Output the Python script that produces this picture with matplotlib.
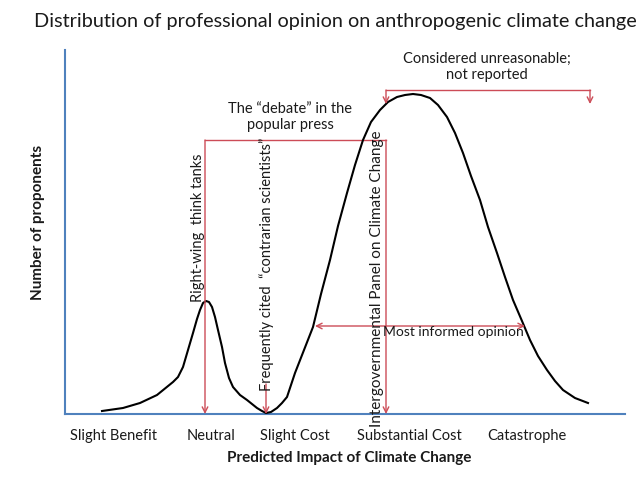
import matplotlib
matplotlib.use("Agg")
import matplotlib.pyplot as plt

plt.rcParams['font.family'] = ['Lato', 'DejaVu Sans']

# curve (x: px right of the y axis, y: px above the x axis)
curve_x = [37, 58, 75, 92, 108, 113, 118, 123, 128, 132, 135, 138, 141, 144, 147, 150,
           153, 157, 160, 164, 168, 175, 182, 187, 192, 197, 201, 206, 212, 217, 222, 230,
           239, 248, 256, 265, 273, 282, 290, 298, 306, 315, 323, 332, 340, 348, 356,
           365, 373, 382, 390, 398, 406, 415, 423, 432, 440, 448, 457, 465, 473, 482,
           490, 498, 510, 523]
curve_y = [3, 6, 11, 19, 32, 37, 47, 64, 81, 95, 104, 111, 113, 112, 107, 97,
           84, 67, 51, 36, 27, 19, 14, 10, 6, 3, 1, 2, 6, 11, 17, 41,
           64, 87, 120, 154, 188, 221, 249, 274, 292, 304, 312, 317, 319, 320, 319,
           316, 309, 297, 281, 261, 238, 214, 187, 161, 137, 114, 93, 74, 58, 44,
           33, 24, 16, 11]

tick_pos = [49, 146, 230, 344, 462]
tick_labels = ['Slight Benefit', 'Neutral', 'Slight Cost', 'Substantial Cost', 'Catastrophe']

# red annotation geometry
neutral_x = 140
contrarian_x = 201
ipcc_x = 321
debate_y = 274
unreason_x = [321, 525]
unreason_y = 324
unreason_tip = 310
informed_x = [250, 460]
informed_y = 88
contrarian_top = 30

red = '#cc4c57'
blue = '#4f81bd'
txt = '#1a1a1a'

fig = plt.figure(figsize=(6.4, 4.8), dpi=100)
ax = fig.add_axes([65 / 640, 66 / 480, 560 / 640, 364 / 480])
ax.set_xlim(0, 560)
ax.set_ylim(0, 364)

ax.plot(curve_x, curve_y, color='black', lw=1.5, zorder=3)

for s in ['top', 'right']:
    ax.spines[s].set_visible(False)
for s in ['left', 'bottom']:
    ax.spines[s].set_color(blue)
    ax.spines[s].set_linewidth(1.5)

ax.set_yticks([])
ax.set_xticks(tick_pos, tick_labels)
ax.tick_params(axis='x', length=0, pad=11, labelsize=10.5, labelcolor=txt)

ax.set_xlabel('Predicted Impact of Climate Change', fontsize=11, fontweight='bold', color=txt)
ax.xaxis.set_label_coords(284 / 560, -37 / 364)
ax.set_ylabel('Number of proponents', fontsize=11, fontweight='bold', color=txt)
ax.yaxis.set_label_coords(-20 / 560, 192 / 364)

fig.text(335 / 640, 1 - 22 / 480, 'Distribution of professional opinion on anthropogenic climate change',
         ha='center', va='center', fontsize=14.3, color=txt)

arrow = dict(arrowstyle='->', color=red, lw=1, shrinkA=0, shrinkB=0, mutation_scale=10)
both = dict(arrowstyle='<->', color=red, lw=1, shrinkA=0, shrinkB=0, mutation_scale=10)

# "debate" bracket: neutral ... IPCC
ax.plot([neutral_x, ipcc_x], [debate_y, debate_y], color=red, lw=1)
ax.annotate('', xy=(neutral_x, 0), xytext=(neutral_x, debate_y), arrowprops=arrow)
ax.annotate('', xy=(ipcc_x, 0), xytext=(ipcc_x, debate_y), arrowprops=arrow)
ax.annotate('', xy=(contrarian_x, 0), xytext=(contrarian_x, contrarian_top), arrowprops=arrow)

# unreasonable bracket
ax.plot(unreason_x, [unreason_y, unreason_y], color=red, lw=1)
for xx in unreason_x:
    ax.annotate('', xy=(xx, unreason_tip), xytext=(xx, unreason_y), arrowprops=arrow)

ax.annotate('', xy=(informed_x[0], informed_y), xytext=(informed_x[1], informed_y), arrowprops=both)

fs = 10.5
ax.text(422, 347, 'Considered unreasonable;\nnot reported', ha='center', va='center',
        fontsize=fs, color=txt, linespacing=1.25)
ax.text(225, 297, 'The \u201cdebate\u201d in the\npopular press', ha='center', va='center',
        fontsize=fs, color=txt, linespacing=1.25)
ax.text(388, 82, 'Most informed opinion', ha='center', va='center', fontsize=10, color=txt)
ax.text(133, 186, 'Right-wing  think tanks', rotation=90, ha='center', va='center',
        fontsize=fs, color=txt)
ax.text(202, 150, 'Frequently cited  \u201ccontrarian scientists\u201d', rotation=90, ha='center',
        va='center', fontsize=fs, color=txt)
ax.text(312, 135, 'Intergovernmental Panel on Climate Change', rotation=90, ha='center',
        va='center', fontsize=11, color=txt)

fig.savefig('out.png', dpi=100)
